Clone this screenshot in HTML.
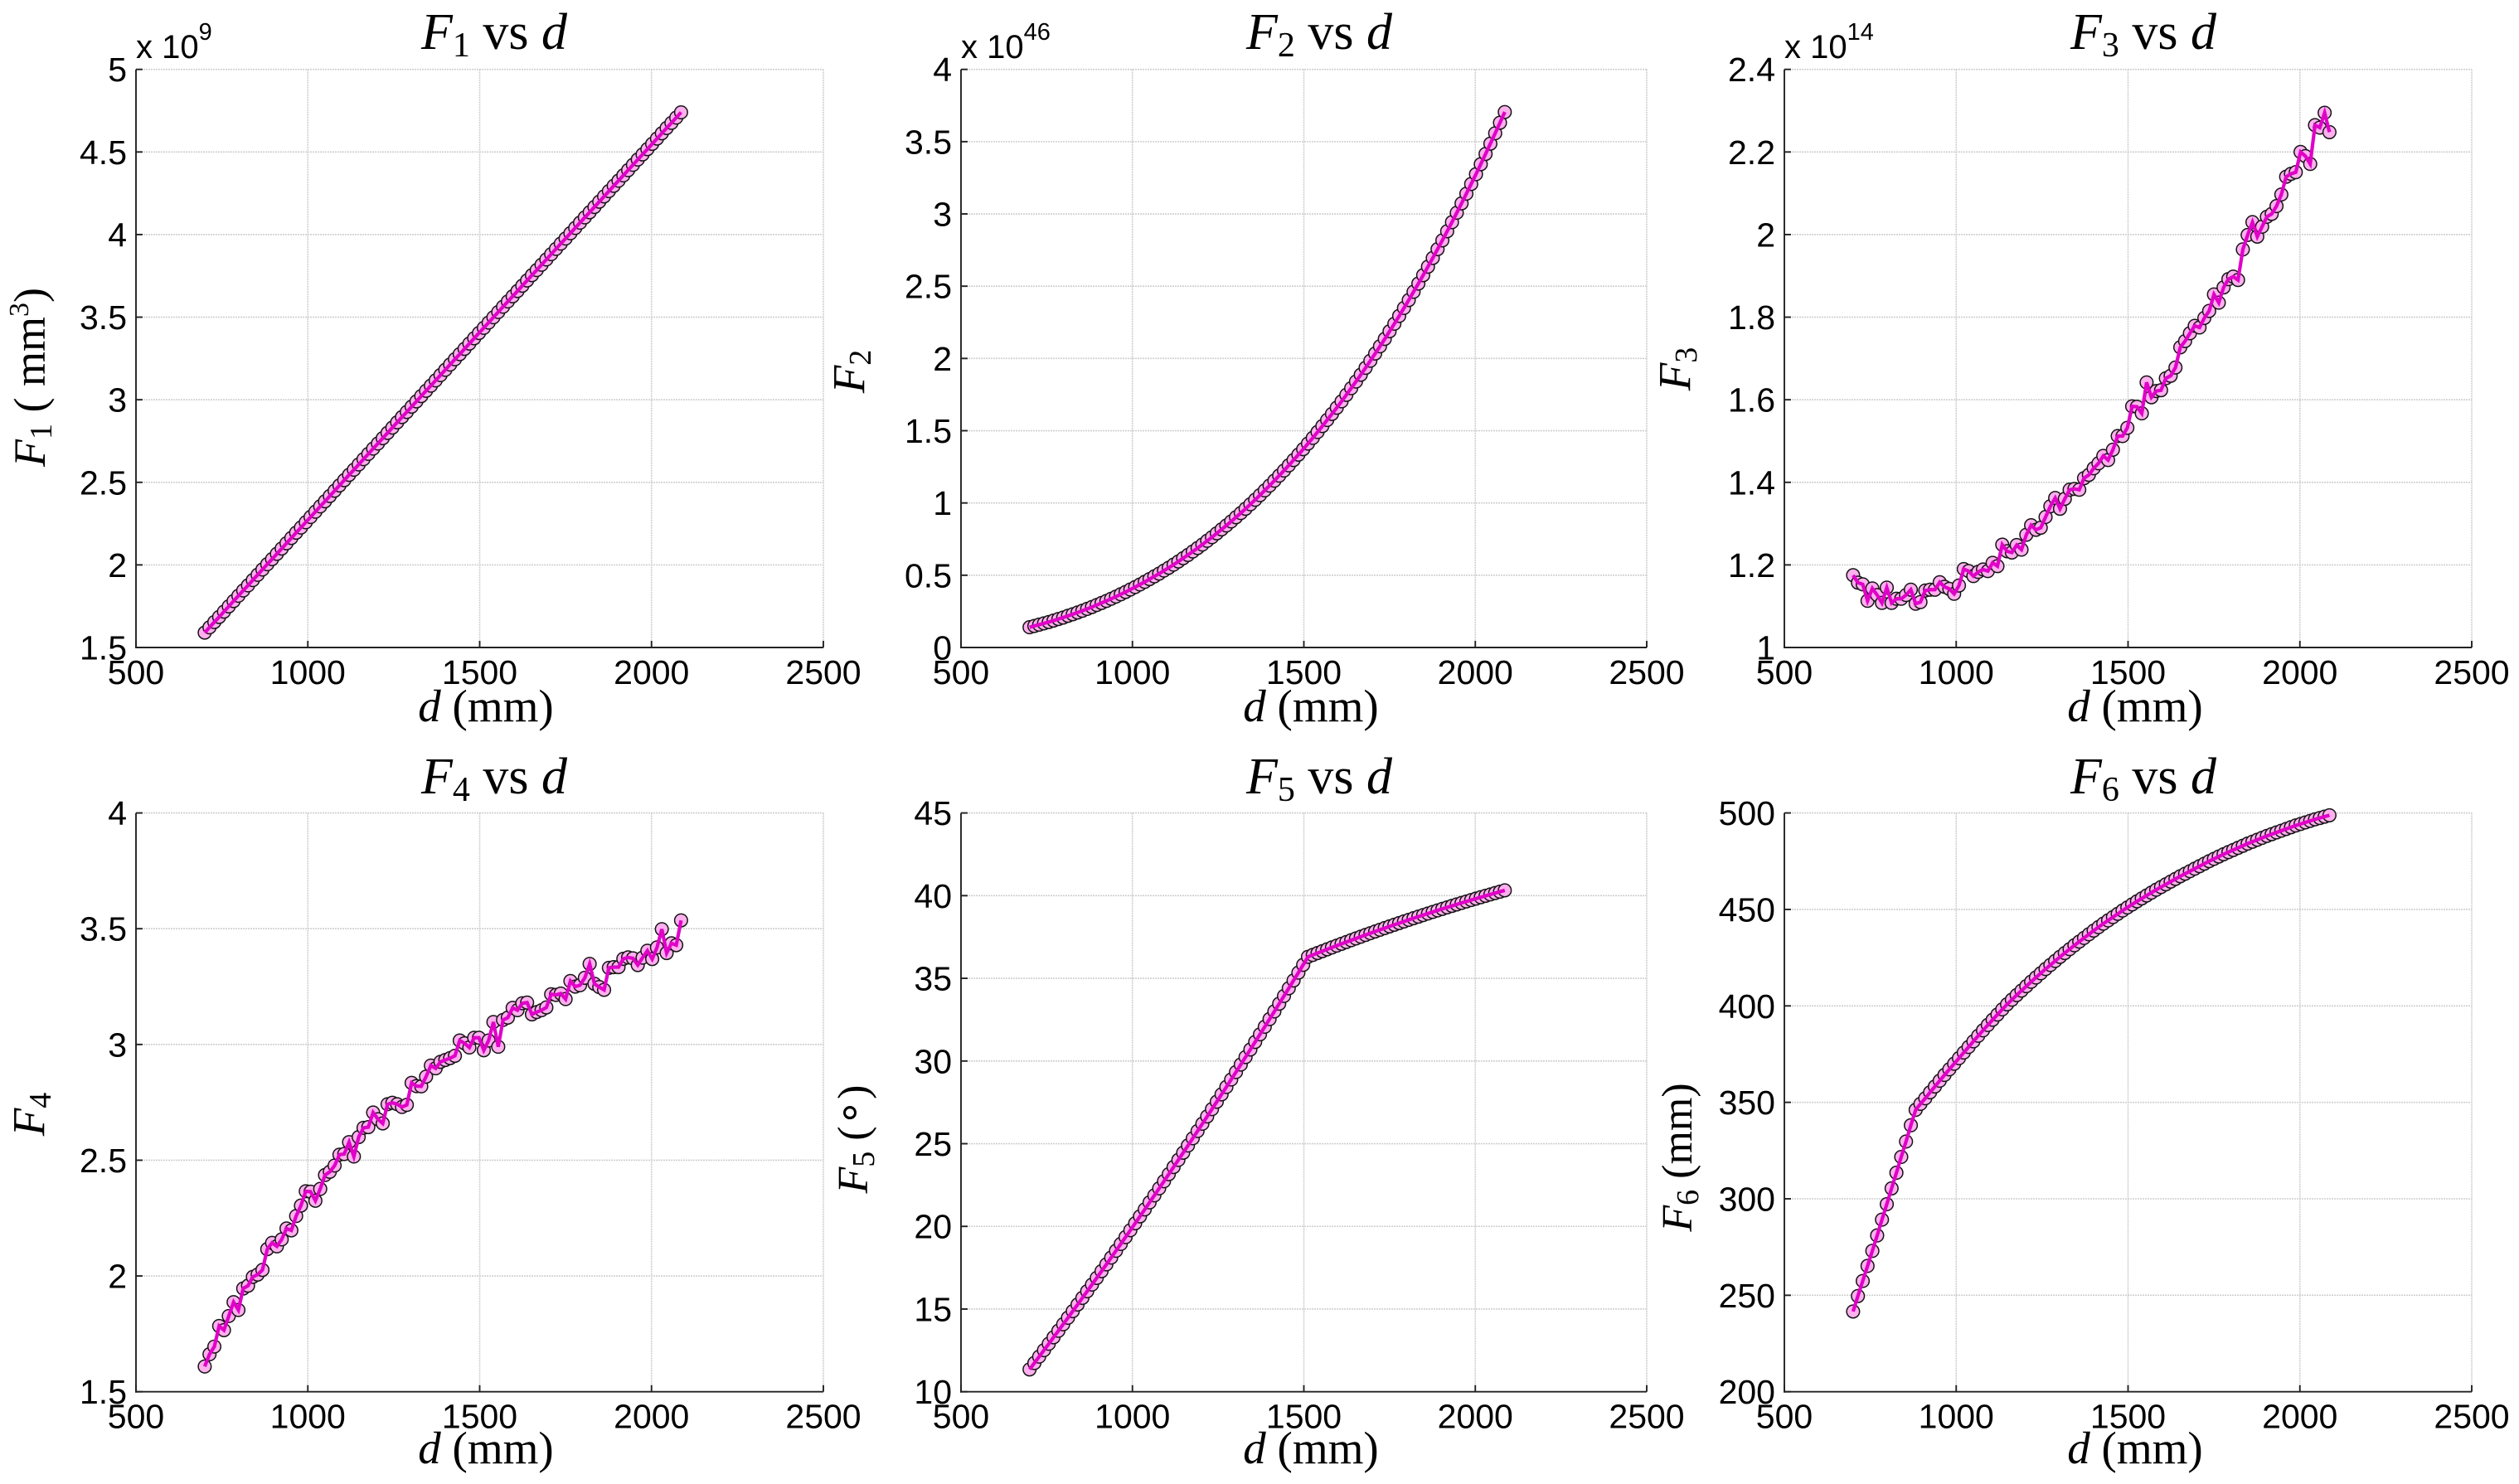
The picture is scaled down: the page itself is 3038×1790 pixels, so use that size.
<!DOCTYPE html>
<html lang="en">
<head>
<meta charset="utf-8">
<title>F1 to F6 vs d</title>
<style>
html,body{margin:0;padding:0;background:#fff;width:3038px;height:1790px;overflow:hidden}
svg{display:block}
.tick{font-family:"Liberation Sans",sans-serif;font-size:41px;fill:#000}
.math{font-family:"Liberation Serif",serif;font-size:62px;fill:#000}
.lab{font-family:"Liberation Serif",serif;font-size:55px;fill:#000}
.it{font-style:italic}
</style>
</head>
<body>
<svg id="figure" xmlns="http://www.w3.org/2000/svg" width="3038" height="1790" viewBox="0 0 3038 1790">
<rect width="3038" height="1790" fill="#fff"/>
<g id="plots"></g>

<text class="math" x="596" y="59" text-anchor="middle"><tspan class="it">F</tspan><tspan dy="9" font-size="42">1</tspan><tspan dy="-9"> vs </tspan><tspan class="it">d</tspan></text>
<text class="math" x="1591" y="59" text-anchor="middle"><tspan class="it">F</tspan><tspan dy="9" font-size="42">2</tspan><tspan dy="-9"> vs </tspan><tspan class="it">d</tspan></text>
<text class="math" x="2585" y="59" text-anchor="middle"><tspan class="it">F</tspan><tspan dy="9" font-size="42">3</tspan><tspan dy="-9"> vs </tspan><tspan class="it">d</tspan></text>
<text class="math" x="596" y="957" text-anchor="middle"><tspan class="it">F</tspan><tspan dy="9" font-size="42">4</tspan><tspan dy="-9"> vs </tspan><tspan class="it">d</tspan></text>
<text class="math" x="1591" y="957" text-anchor="middle"><tspan class="it">F</tspan><tspan dy="9" font-size="42">5</tspan><tspan dy="-9"> vs </tspan><tspan class="it">d</tspan></text>
<text class="math" x="2585" y="957" text-anchor="middle"><tspan class="it">F</tspan><tspan dy="9" font-size="42">6</tspan><tspan dy="-9"> vs </tspan><tspan class="it">d</tspan></text>

<text class="lab" x="586" y="870" text-anchor="middle"><tspan class="it">d</tspan> (mm)</text>
<text class="lab" x="1581" y="870" text-anchor="middle"><tspan class="it">d</tspan> (mm)</text>
<text class="lab" x="2575" y="870" text-anchor="middle"><tspan class="it">d</tspan> (mm)</text>
<text class="lab" x="586" y="1765" text-anchor="middle"><tspan class="it">d</tspan> (mm)</text>
<text class="lab" x="1581" y="1765" text-anchor="middle"><tspan class="it">d</tspan> (mm)</text>
<text class="lab" x="2575" y="1765" text-anchor="middle"><tspan class="it">d</tspan> (mm)</text>

<text class="lab" font-size="54" style="font-size:54px" transform="translate(54,455) rotate(-90)" text-anchor="middle"><tspan class="it">F</tspan><tspan dy="8" font-size="38">1</tspan><tspan dy="-8"> ( mm</tspan><tspan dy="-20" font-size="34">3</tspan><tspan dy="20">)</tspan></text>
<text class="lab" transform="translate(1042,448) rotate(-90)" text-anchor="middle"><tspan class="it">F</tspan><tspan dy="8" font-size="38">2</tspan></text>
<text class="lab" transform="translate(2038,445) rotate(-90)" text-anchor="middle"><tspan class="it">F</tspan><tspan dy="8" font-size="38">3</tspan></text>
<text class="lab" transform="translate(53,1344) rotate(-90)" text-anchor="middle"><tspan class="it">F</tspan><tspan dy="8" font-size="38">4</tspan></text>
<text class="lab" style="font-size:52px" transform="translate(1046,1374) rotate(-90)" text-anchor="middle"><tspan class="it">F</tspan><tspan dy="8" font-size="38">5</tspan><tspan dy="-8"> (</tspan><tspan dy="-4">∘</tspan><tspan dy="4">)</tspan></text>
<text class="lab" style="font-size:52px" transform="translate(2040,1396) rotate(-90)" text-anchor="middle"><tspan class="it">F</tspan><tspan dy="8" font-size="38">6</tspan><tspan dy="-8"> (mm)</tspan></text>

<text class="tick" style="font-size:40px" x="164" y="70">x 10<tspan dy="-22" font-size="29">9</tspan></text>
<text class="tick" style="font-size:40px" x="1159" y="70">x 10<tspan dy="-22" font-size="29">46</tspan></text>
<text class="tick" style="font-size:40px" x="2152" y="70">x 10<tspan dy="-22" font-size="29">14</tspan></text>
</svg>

<script>
const dValues = [700,714,728,742,756,770,784,798,812,826,840,854,868,882,896,910,924,938,952,966,980,994,1008,1022,1036,1050,1064,1078,1092,1106,1120,1134,1148,1162,1176,1190,1204,1218,1232,1246,1260,1274,1288,1302,1316,1330,1344,1358,1372,1386,1400,1414,1428,1442,1456,1470,1484,1498,1512,1526,1540,1554,1568,1582,1596,1610,1624,1638,1652,1666,1680,1694,1708,1722,1736,1750,1764,1778,1792,1806,1820,1834,1848,1862,1876,1890,1904,1918,1932,1946,1960,1974,1988,2002,2016,2030,2044,2058,2072,2086];

const f1Values = [1.590,1.622,1.654,1.685,1.717,1.749,1.781,1.813,1.845,1.876,1.908,1.940,1.972,2.004,2.035,2.067,2.099,2.131,2.163,2.195,2.226,2.258,2.290,2.322,2.354,2.385,2.417,2.449,2.481,2.513,2.545,2.576,2.608,2.640,2.672,2.704,2.735,2.767,2.799,2.831,2.863,2.895,2.926,2.958,2.990,3.022,3.054,3.085,3.117,3.149,3.181,3.213,3.245,3.276,3.308,3.340,3.372,3.404,3.435,3.467,3.499,3.531,3.563,3.595,3.626,3.658,3.690,3.722,3.754,3.785,3.817,3.849,3.881,3.913,3.945,3.976,4.008,4.040,4.072,4.104,4.135,4.167,4.199,4.231,4.263,4.295,4.326,4.358,4.390,4.422,4.454,4.485,4.517,4.549,4.581,4.613,4.645,4.676,4.708,4.740];

const f2Values = [0.140,0.149,0.158,0.167,0.176,0.186,0.197,0.207,0.219,0.230,0.242,0.254,0.267,0.280,0.294,0.308,0.322,0.337,0.352,0.368,0.384,0.401,0.418,0.436,0.454,0.473,0.492,0.511,0.532,0.552,0.573,0.595,0.618,0.640,0.664,0.688,0.712,0.738,0.763,0.790,0.817,0.844,0.872,0.901,0.930,0.960,0.991,1.022,1.054,1.087,1.120,1.154,1.189,1.224,1.260,1.297,1.334,1.372,1.411,1.450,1.491,1.532,1.574,1.616,1.659,1.703,1.748,1.794,1.840,1.887,1.935,1.984,2.034,2.084,2.135,2.188,2.240,2.294,2.349,2.404,2.461,2.518,2.576,2.635,2.695,2.756,2.817,2.880,2.943,3.008,3.073,3.140,3.207,3.275,3.344,3.415,3.486,3.558,3.631,3.705];

const f3Values = [1.175,1.157,1.153,1.113,1.143,1.127,1.108,1.145,1.108,1.118,1.118,1.127,1.140,1.106,1.110,1.138,1.140,1.140,1.158,1.147,1.142,1.130,1.150,1.190,1.185,1.173,1.183,1.189,1.185,1.205,1.197,1.249,1.233,1.230,1.248,1.237,1.273,1.296,1.285,1.290,1.316,1.342,1.362,1.336,1.360,1.382,1.384,1.382,1.410,1.418,1.434,1.446,1.464,1.454,1.479,1.512,1.512,1.532,1.584,1.583,1.567,1.642,1.606,1.621,1.623,1.652,1.658,1.678,1.727,1.742,1.761,1.779,1.775,1.798,1.815,1.855,1.835,1.872,1.892,1.898,1.890,1.964,1.999,2.030,1.995,2.019,2.043,2.050,2.069,2.097,2.140,2.147,2.151,2.200,2.190,2.171,2.265,2.259,2.295,2.248];

const f4Values = [1.609,1.662,1.695,1.784,1.766,1.827,1.887,1.853,1.946,1.958,1.996,2.006,2.026,2.116,2.143,2.128,2.158,2.205,2.197,2.259,2.304,2.366,2.364,2.325,2.376,2.436,2.450,2.477,2.524,2.527,2.578,2.516,2.600,2.640,2.643,2.706,2.677,2.659,2.742,2.748,2.742,2.730,2.739,2.834,2.820,2.819,2.861,2.909,2.897,2.925,2.933,2.941,2.951,3.017,3.005,2.987,3.029,3.029,2.975,3.017,3.097,2.990,3.106,3.116,3.158,3.148,3.178,3.181,3.130,3.140,3.148,3.160,3.217,3.214,3.220,3.196,3.274,3.250,3.256,3.288,3.348,3.262,3.248,3.236,3.331,3.334,3.334,3.370,3.376,3.372,3.343,3.375,3.405,3.369,3.419,3.498,3.395,3.437,3.429,3.536];

const f5Values = [11.350,11.735,12.122,12.510,12.899,13.291,13.684,14.078,14.474,14.872,15.271,15.672,16.074,16.478,16.884,17.291,17.700,18.110,18.522,18.935,19.350,19.767,20.185,20.605,21.026,21.449,21.873,22.299,22.727,23.156,23.587,24.019,24.453,24.889,25.326,25.765,26.205,26.647,27.090,27.535,27.982,28.430,28.880,29.331,29.784,30.239,30.695,31.152,31.612,32.072,32.535,32.999,33.464,33.931,34.400,34.870,35.342,35.816,36.300,36.415,36.529,36.642,36.755,36.866,36.977,37.087,37.196,37.304,37.411,37.518,37.624,37.729,37.833,37.936,38.038,38.139,38.240,38.340,38.439,38.537,38.634,38.730,38.825,38.920,39.014,39.107,39.199,39.290,39.380,39.470,39.559,39.647,39.734,39.820,39.905,39.989,40.073,40.156,40.238,40.320];

const f6Values = [241.6,249.6,257.4,265.2,273.0,281.0,289.2,297.2,305.4,313.5,321.7,329.7,338.1,346.1,349.2,352.1,355.2,358.2,361.2,364.2,367.1,370.0,372.9,375.8,378.7,381.6,384.5,387.3,390.1,392.8,395.5,398.2,400.8,403.2,405.6,407.9,410.2,412.5,414.7,416.9,419.1,421.2,423.3,425.4,427.4,429.4,431.4,433.3,435.2,437.1,439.0,440.8,442.6,444.3,446.0,447.7,449.4,451.0,452.6,454.2,455.7,457.2,458.7,460.2,461.6,463.0,464.4,465.8,467.2,468.5,469.8,471.1,472.4,473.7,475.0,476.2,477.4,478.6,479.7,480.8,481.9,483.0,484.1,485.1,486.1,487.1,488.1,489.0,489.9,490.8,491.7,492.6,493.5,494.3,495.1,495.9,496.7,497.4,498.1,498.8];

const xTicks = [500,1000,1500,2000,2500];
const f1YTicks = [1.5,2,2.5,3,3.5,4,4.5,5];
const f2YTicks = [0,0.5,1,1.5,2,2.5,3,3.5,4];
const f3YTicks = [1,1.2,1.4,1.6,1.8,2,2.2,2.4];
const f4YTicks = [1.5,2,2.5,3,3.5,4];
const f5YTicks = [10,15,20,25,30,35,40,45];
const f6YTicks = [200,250,300,350,400,450,500];

const SVG_NS = 'http://www.w3.org/2000/svg';
const plotsLayer = document.getElementById('plots');

function make(tag, attrs, parent) {
  const el = document.createElementNS(SVG_NS, tag);
  Object.keys(attrs).forEach(function (k) { el.setAttribute(k, attrs[k]); });
  parent.appendChild(el);
  return el;
}

function drawPanel(id, left, right, top, bottom, values, yTicks) {
  const xMin = xTicks[0], xMax = xTicks[xTicks.length - 1];
  const yMin = yTicks[0], yMax = yTicks[yTicks.length - 1];
  const xScale = function (v) { return left + (v - xMin) / (xMax - xMin) * (right - left); };
  const yScale = function (v) { return bottom - (v - yMin) / (yMax - yMin) * (bottom - top); };

  const panel = make('g', {}, plotsLayer);
  
  

  const gridStyle = { stroke: '#cfcfcf', 'stroke-width': 1.6, 'stroke-dasharray': '2 1', fill: 'none' };

  xTicks.forEach(function (t) {
    const x = xScale(t);
    if (t !== xMin) {
      const g = make('line', Object.assign({ x1: x, x2: x, y1: top, y2: bottom }, gridStyle), panel);
      
      
    }
  });
  yTicks.forEach(function (t) {
    const y = yScale(t);
    if (t !== yMin) {
      const g = make('line', Object.assign({ x1: left, x2: right, y1: y, y2: y }, gridStyle), panel);
      
      
    }
  });

  const axisStyle = { stroke: '#222', 'stroke-width': 1.9, fill: 'none' };
  const yAxis = make('line', Object.assign({ x1: left, x2: left, y1: top, y2: bottom + 1 }, axisStyle), panel);
  
  
  const xAxis = make('line', Object.assign({ x1: left - 1, x2: right, y1: bottom, y2: bottom }, axisStyle), panel);
  
  

  xTicks.forEach(function (t) {
    const x = xScale(t);
    const m = make('line', Object.assign({ x1: x, x2: x, y1: bottom, y2: bottom - 8 }, axisStyle), panel);
    
    
    const label = make('text', { class: 'tick', x: x, y: bottom + 44, 'text-anchor': 'middle' }, panel);
    
    
    label.textContent = String(t);
  });
  yTicks.forEach(function (t) {
    const y = yScale(t);
    const m = make('line', Object.assign({ x1: left, x2: left + 8, y1: y, y2: y }, axisStyle), panel);
    
    
    const label = make('text', { class: 'tick', x: left - 11, y: y + 14.5, 'text-anchor': 'end' }, panel);
    
    
    label.textContent = String(t);
  });

  const markers = make('g', {}, panel);
  
  
  values.forEach(function (v, i) {
    const c = make('circle', { cx: xScale(dValues[i]), cy: yScale(v), r: 7.8, fill: '#ffb0ee', stroke: '#141414', 'stroke-width': 1.5 }, markers);
    
    
  });

  const pts = values.map(function (v, i) { return xScale(dValues[i]).toFixed(2) + ',' + yScale(v).toFixed(2); }).join(' ');
  const line = make('polyline', { points: pts, fill: 'none', stroke: '#e000c8', 'stroke-width': 4.2, 'stroke-linejoin': 'miter' }, panel);
  
  
}

drawPanel('f1', 164, 993, 83.7, 781, f1Values, f1YTicks);
drawPanel('f2', 1159, 1986, 83.7, 781, f2Values, f2YTicks);
drawPanel('f3', 2152, 2981, 83.7, 781, f3Values, f3YTicks);
drawPanel('f4', 164, 993, 980.6, 1678.7, f4Values, f4YTicks);
drawPanel('f5', 1159, 1986, 980.6, 1678.7, f5Values, f5YTicks);
drawPanel('f6', 2152, 2981, 980.6, 1678.7, f6Values, f6YTicks);
</script>
</body>
</html>
